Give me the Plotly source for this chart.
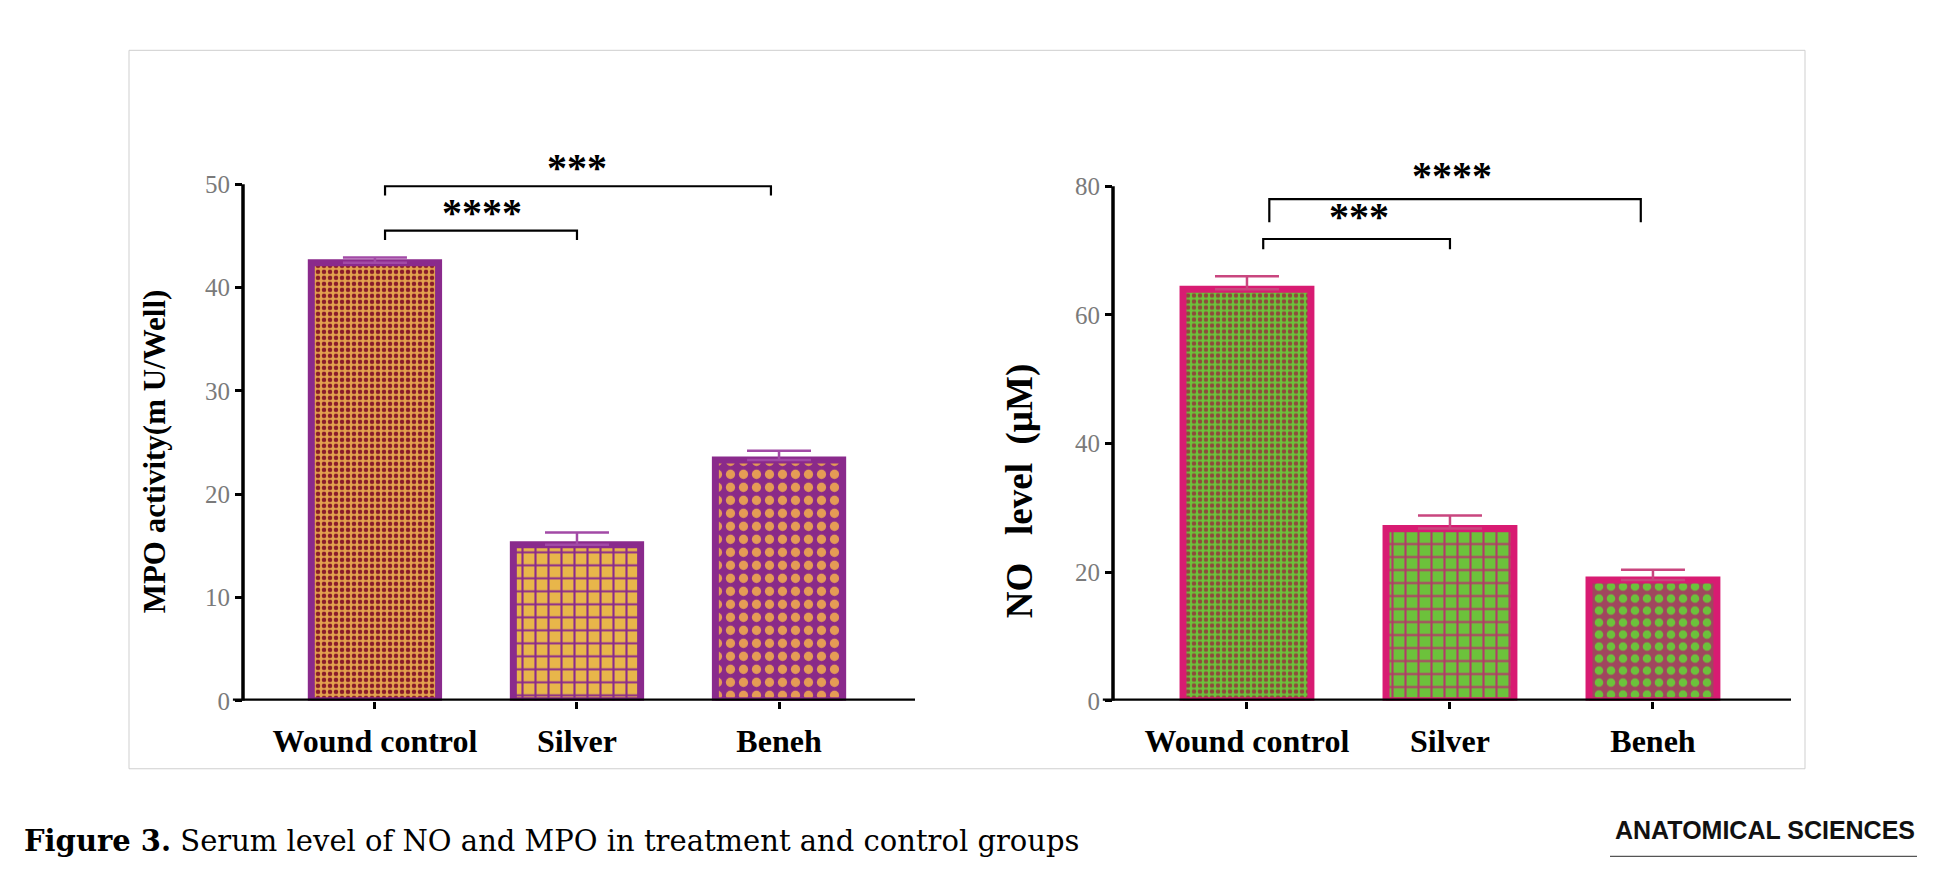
import plotly.graph_objects as go

# ---- data ----
groups = ["Wound control", "Silver", "Beneh"]

mpo_mean = [42.4, 15.1, 23.3]
mpo_sem = [0.5, 1.2, 0.9]

no_mean = [64.0, 26.8, 18.8]
no_sem = [2.0, 2.0, 1.6]

# significance brackets: (x_left, x_right, y_bar, y_tip, label_x, label_y, stars)
mpo_sig = [
    (0.05, 1.00, 45.5, 44.6, 0.53, 47.3, "****"),
    (0.05, 1.96, 49.8, 48.9, 1.00, 51.6, "***"),
]
no_sig = [
    (0.08, 1.00, 71.8, 70.2, 0.55, 75.3, "***"),
    (0.11, 1.94, 78.0, 74.4, 1.01, 81.6, "****"),
]

W, H = 1939, 884

# bar styling
mpo_border = "#8A2A8C"
mpo_err = "#A24AA6"
mpo_patterns = [
    dict(shape=".", fgcolor="#8A1C2A", bgcolor="#E3A24E", size=6, solidity=0.45, fillmode="replace"),
    dict(shape="+", fgcolor="#8A2A8C", bgcolor="#E8B64A", size=13, solidity=0.3, fillmode="replace"),
    dict(shape=".", fgcolor="#E59C55", bgcolor="#8A2A88", size=13, solidity=0.4, fillmode="replace"),
]
no_border = "#D81B72"
no_err = "#C9467F"
no_patterns = [
    dict(shape=".", fgcolor="#8E4A3C", bgcolor="#6CC23B", size=6, solidity=0.45, fillmode="replace"),
    dict(shape="+", fgcolor="#B23A68", bgcolor="#6CC23B", size=13, solidity=0.3, fillmode="replace"),
    dict(shape=".", fgcolor="#6CC23B", bgcolor="#A0465E", size=12, solidity=0.4, fillmode="replace"),
]

serif = "Liberation Serif"

fig = go.Figure()

for i, g in enumerate(groups):
    fig.add_trace(go.Bar(
        x=[i], y=[mpo_mean[i]], width=0.63, name=g, showlegend=False,
        marker=dict(color=mpo_patterns[i]["bgcolor"], pattern=mpo_patterns[i],
                    line=dict(color=mpo_border, width=7)),
        error_y=dict(type="data", array=[mpo_sem[i]], arrayminus=[0], symmetric=False,
                     color=mpo_err, thickness=2.5, width=32),
        xaxis="x", yaxis="y",
    ))
    fig.add_trace(go.Bar(
        x=[i], y=[no_mean[i]], width=0.63, name=g, showlegend=False,
        marker=dict(color=no_patterns[i]["bgcolor"], pattern=no_patterns[i],
                    line=dict(color=no_border, width=7)),
        error_y=dict(type="data", array=[no_sem[i]], arrayminus=[0], symmetric=False,
                     color=no_err, thickness=2.5, width=32),
        xaxis="x2", yaxis="y2",
    ))

shapes = []
annotations = []

# outer frame
shapes.append(dict(type="rect", xref="paper", yref="paper",
                   x0=121 / W, x1=1797 / W, y0=1 - 773 / H, y1=1 - 43 / H,
                   line=dict(color="#CFCFCF", width=1)))

def add_axes_and_brackets(xa, ya, ytop, sig):
    # y axis line and x axis line
    shapes.append(dict(type="line", xref=xa + " domain", yref=ya, x0=0, x1=0, y0=0, y1=ytop,
                       line=dict(color="black", width=3.5)))
    shapes.append(dict(type="line", xref=xa + " domain", yref=ya, x0=-0.015, x1=1, y0=0, y1=0,
                       line=dict(color="black", width=4.5)))
    for xl, xr, yb, yt, lx, ly, txt in sig:
        shapes.append(dict(type="path", xref=xa, yref=ya,
                           path=f"M {xl},{yt} L {xl},{yb} L {xr},{yb} L {xr},{yt}",
                           line=dict(color="black", width=2.2)))
        annotations.append(dict(x=lx, y=ly, xref=xa, yref=ya, text=f"<b>{txt}</b>",
                                showarrow=False, font=dict(family=serif, size=40, color="black")))

add_axes_and_brackets("x", "y", 50, mpo_sig)
add_axes_and_brackets("x2", "y2", 80, no_sig)

# axis titles
annotations.append(dict(x=127 / W, y=1 - 451 / H, xref="paper", yref="paper", textangle=-90,
                        text="<b>MPO activity(m U/Well)</b>", showarrow=False,
                        font=dict(family=serif, size=31, color="black")))
annotations.append(dict(x=1012 / W, y=1 - 491 / H, xref="paper", yref="paper", textangle=-90,
                        text="<b>NO\u00a0\u00a0\u00a0level\u00a0\u00a0(µM)</b>", showarrow=False,
                        font=dict(family=serif, size=37, color="black")))

# caption and journal mark
annotations.append(dict(x=14 / W, y=1 - 866 / H, xref="paper", yref="paper", xanchor="left",
                        text="<b>Figure 3.</b> Serum level of NO and MPO in treatment and control groups",
                        showarrow=False, font=dict(family="DejaVu Serif", size=29, color="black")))
annotations.append(dict(x=1909 / W, y=1 - 851 / H, xref="paper", yref="paper", xanchor="right",
                        text="<b>ANATOMICAL SCIENCES</b>", showarrow=False,
                        font=dict(family="Liberation Sans", size=25, color="#111")))
shapes.append(dict(type="line", xref="paper", yref="paper", x0=1602 / W, x1=1909 / W,
                   y0=1 - 862 / H, y1=1 - 862 / H, line=dict(color="#555", width=1.2)))

xaxis_common = dict(tickmode="array", tickvals=[0, 1, 2], ticktext=[f"<b>{g}</b>" for g in groups],
                    ticks="outside", ticklen=7, tickwidth=3, tickcolor="black",
                    showline=False, showgrid=False, zeroline=False, ticklabelstandoff=5,
                    tickfont=dict(family=serif, size=32, color="black"), fixedrange=True)
yaxis_common = dict(tickmode="linear", tick0=0,
                    ticks="outside", ticklen=7, tickwidth=3, tickcolor="black",
                    showline=False, showgrid=False, zeroline=False,
                    tickfont=dict(family=serif, size=25, color="#7A7A7A"))

fig.update_layout(
    width=W, height=H,
    margin=dict(l=0, r=0, t=0, b=0),
    paper_bgcolor="white", plot_bgcolor="rgba(0,0,0,0)",
    barmode="overlay",
    xaxis=dict(xaxis_common, domain=[235 / W, 907 / W], range=[-0.653, 2.673], anchor="y"),
    yaxis=dict(yaxis_common, domain=[1 - 704 / H, 1 - 137 / H], range=[0, 54], dtick=10, anchor="x"),
    xaxis2=dict(xaxis_common, domain=[1105 / W, 1783 / W], range=[-0.66, 2.68], anchor="y2"),
    yaxis2=dict(yaxis_common, domain=[1 - 704 / H, 1 - 155 / H], range=[0, 84], dtick=20, anchor="x2"),
    shapes=shapes,
    annotations=annotations,
)

fig.write_html("out.html")
